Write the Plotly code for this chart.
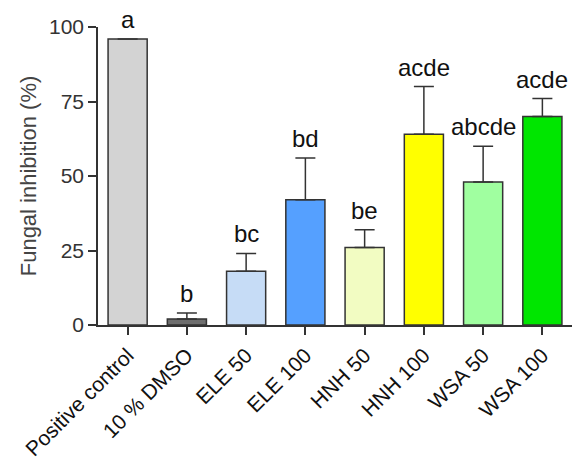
import plotly.graph_objects as go

# Treatment groups and their mean fungal inhibition (%) with upper SD
groups = ["Positive control", "10 % DMSO", "ELE 50", "ELE 100",
          "HNH 50", "HNH 100", "WSA 50", "WSA 100"]
inhibition = [96, 2, 18, 42, 26, 64, 48, 70]
sd_upper = [0, 2, 6, 14, 6, 16, 12, 6]
letters = ["a", "b", "bc", "bd", "be", "acde", "abcde", "acde"]
bar_colors = ["#D3D3D3", "#6E6E6E", "#C6DCF6", "#55A0FF",
              "#F2FCC2", "#FFFF00", "#A0FFA0", "#00E600"]

FONT = "Liberation Sans, Arial, sans-serif"
INK = "#333333"

fig = go.Figure()
fig.add_trace(go.Bar(
    x=groups,
    y=inhibition,
    width=0.66,
    marker=dict(color=bar_colors, line=dict(color=INK, width=1.5)),
    error_y=dict(type="data", symmetric=False, array=sd_upper,
                 arrayminus=[0] * len(groups), color=INK,
                 thickness=1.5, width=10, visible=True),
    showlegend=False,
))

for g, v, e, lab in zip(groups, inhibition, sd_upper, letters):
    fig.add_annotation(x=g, y=v + e, text=lab, showarrow=False,
                       yanchor="bottom", yshift=4,
                       font=dict(family=FONT, size=24, color="#111111"))

fig.update_layout(
    width=573, height=461,
    margin=dict(l=98, r=1, t=27, b=136),
    plot_bgcolor="white", paper_bgcolor="white",
    font=dict(family=FONT, size=21, color=INK),
    bargap=0.34,
)
fig.update_xaxes(
    range=[-0.5, 7.5], showline=True, linecolor=INK, linewidth=1.5,
    ticks="outside", ticklen=8, tickwidth=1.5, tickcolor=INK,
    tickangle=-45, showgrid=False, zeroline=False, automargin=False,
    tickfont=dict(family=FONT, size=21, color="#111111"),
)
fig.update_yaxes(
    range=[0, 100], tickvals=[0, 25, 50, 75, 100],
    showline=True, linecolor=INK, linewidth=1.5,
    ticks="outside", ticklen=8, tickwidth=1.5, tickcolor=INK,
    showgrid=False, zeroline=False, automargin=False,
    tickfont=dict(family=FONT, size=21, color=INK),
    title=dict(text="Fungal inhibition (%)", standoff=6,
               font=dict(family=FONT, size=22, color="#444444")),
)

fig.write_html("out.html")
